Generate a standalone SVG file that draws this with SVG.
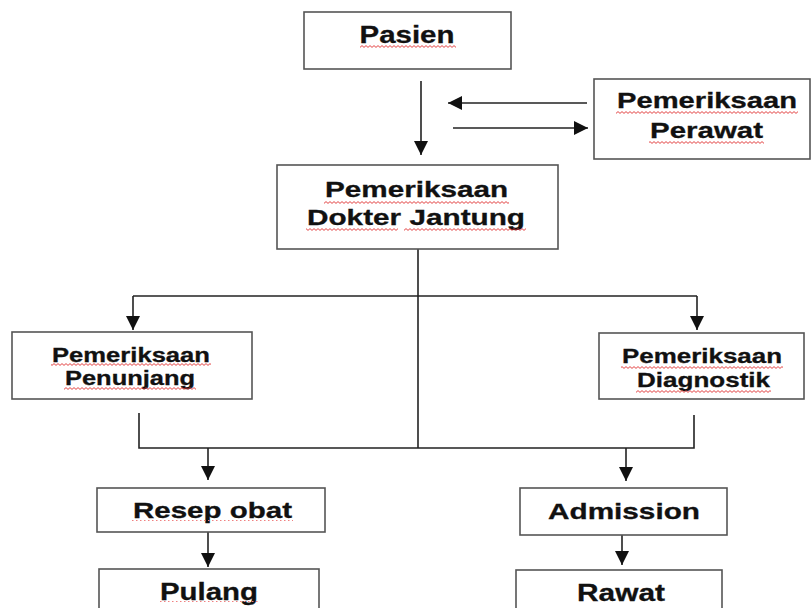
<svg xmlns="http://www.w3.org/2000/svg" width="811" height="608" viewBox="0 0 811 608">
<style>
.box{fill:#fff;stroke:#555;stroke-width:1.6}
.t{font-family:"Liberation Sans",Arial,sans-serif;font-weight:bold;fill:#111;stroke:#111;stroke-width:0.3;text-anchor:middle}
.c{fill:none;stroke:#222;stroke-width:1.6}
.sq{fill:url(#wave)}
.dot{fill:url(#dots)}
</style>
<defs>
<marker id="ah" markerUnits="userSpaceOnUse" markerWidth="15" markerHeight="14" refX="14" refY="7" orient="auto">
<path d="M0,0 L14,7 L0,14 z" fill="#111"/>
</marker>
<pattern id="wave" width="4" height="3" patternUnits="userSpaceOnUse">
<path d="M0,2.4 L2,0.6 L4,2.4" fill="none" stroke="#e03030" stroke-width="0.9"/>
</pattern>
<pattern id="dots" width="4" height="3" patternUnits="userSpaceOnUse">
<rect x="0" y="1" width="1.5" height="1" fill="#f08080"/>
</pattern>
</defs>

<g id="connectors">
<line class="c" x1="421" y1="81" x2="421" y2="155" marker-end="url(#ah)"/>
<line class="c" x1="587" y1="103" x2="448" y2="103" marker-end="url(#ah)"/>
<line class="c" x1="453" y1="128" x2="588" y2="128" marker-end="url(#ah)"/>
<line class="c" x1="418" y1="249" x2="418" y2="448"/>
<polyline class="c" points="133,296 697,296"/>
<line class="c" x1="133" y1="296" x2="133" y2="330" marker-end="url(#ah)"/>
<line class="c" x1="697" y1="296" x2="697" y2="330" marker-end="url(#ah)"/>
<polyline class="c" points="139,413 139,448 694,448 694,415"/>
<line class="c" x1="208" y1="448" x2="208" y2="480" marker-end="url(#ah)"/>
<line class="c" x1="626" y1="448" x2="626" y2="481" marker-end="url(#ah)"/>
<line class="c" x1="208" y1="532" x2="208" y2="567" marker-end="url(#ah)"/>
<line class="c" x1="622" y1="535" x2="622" y2="565" marker-end="url(#ah)"/>
</g>

<g id="pasien">
<rect class="box" x="304" y="12" width="207" height="57"/>
<text class="t" transform="translate(407,43) scale(1.227,1)" font-size="24" textLength="77.4" lengthAdjust="spacingAndGlyphs">Pasien</text>
<rect class="sq" x="360" y="45" width="96" height="3"/>
</g>

<g id="perawat">
<rect class="box" x="594" y="79" width="216" height="80"/>
<text class="t" transform="translate(707,107.5) scale(1.33,1)" font-size="22" textLength="135.3" lengthAdjust="spacingAndGlyphs">Pemeriksaan</text>
<text class="t" transform="translate(706.5,137.5) scale(1.33,1)" font-size="22" textLength="85" lengthAdjust="spacingAndGlyphs">Perawat</text>
<rect class="sq" x="616" y="111" width="182" height="3"/>
<rect class="sq" x="649" y="141" width="115" height="3"/>
</g>

<g id="dokter">
<rect class="box" x="277" y="165" width="281" height="84"/>
<text class="t" transform="translate(416.5,197) scale(1.35,1)" font-size="22" textLength="135.6" lengthAdjust="spacingAndGlyphs">Pemeriksaan</text>
<text class="t" transform="translate(416,225) scale(1.35,1)" font-size="22" textLength="161.5" lengthAdjust="spacingAndGlyphs">Dokter Jantung</text>
<rect class="sq" x="324" y="201" width="185" height="3"/>
<rect class="sq" x="306" y="228" width="92" height="3"/>
<rect class="sq" x="404" y="228" width="122" height="3"/>
</g>

<g id="penunjang">
<rect class="box" x="12" y="332" width="240" height="67"/>
<text class="t" transform="translate(131,362) scale(1.28,1)" font-size="20" textLength="123.4" lengthAdjust="spacingAndGlyphs">Pemeriksaan</text>
<text class="t" transform="translate(130,384.5) scale(1.28,1)" font-size="20" textLength="101.6" lengthAdjust="spacingAndGlyphs">Penunjang</text>
<rect class="sq" x="51" y="363" width="160" height="3"/>
<rect class="sq" x="64" y="387" width="132" height="3"/>
</g>

<g id="diagnostik">
<rect class="box" x="599" y="333" width="205" height="66"/>
<text class="t" transform="translate(702,363) scale(1.3,1)" font-size="20" textLength="123.1" lengthAdjust="spacingAndGlyphs">Pemeriksaan</text>
<text class="t" transform="translate(703.5,386.5) scale(1.3,1)" font-size="20" textLength="102.3" lengthAdjust="spacingAndGlyphs">Diagnostik</text>
<rect class="sq" x="621" y="366" width="162" height="3"/>
<rect class="sq" x="636" y="390" width="135" height="3"/>
</g>

<g id="resep">
<rect class="box" x="97" y="488" width="228" height="44"/>
<text class="t" transform="translate(212.5,518) scale(1.34,1)" font-size="22" textLength="118.7" lengthAdjust="spacingAndGlyphs">Resep obat</text>
<rect class="dot" x="132" y="519" width="161" height="3"/>
</g>

<g id="admission">
<rect class="box" x="520" y="488" width="207" height="47"/>
<text class="t" transform="translate(624,518.5) scale(1.34,1)" font-size="22" textLength="113.4" lengthAdjust="spacingAndGlyphs">Admission</text>
</g>

<g id="pulang">
<rect class="box" x="99" y="569" width="220" height="60"/>
<text class="t" transform="translate(209,600) scale(1.225,1)" font-size="24" textLength="80" lengthAdjust="spacingAndGlyphs">Pulang</text>
<rect class="dot" x="160" y="601" width="98" height="3"/>
</g>

<g id="rawat">
<rect class="box" x="516" y="570" width="206" height="60"/>
<text class="t" transform="translate(621,600.5) scale(1.225,1)" font-size="24" textLength="71.8" lengthAdjust="spacingAndGlyphs">Rawat</text>
</g>
</svg>
